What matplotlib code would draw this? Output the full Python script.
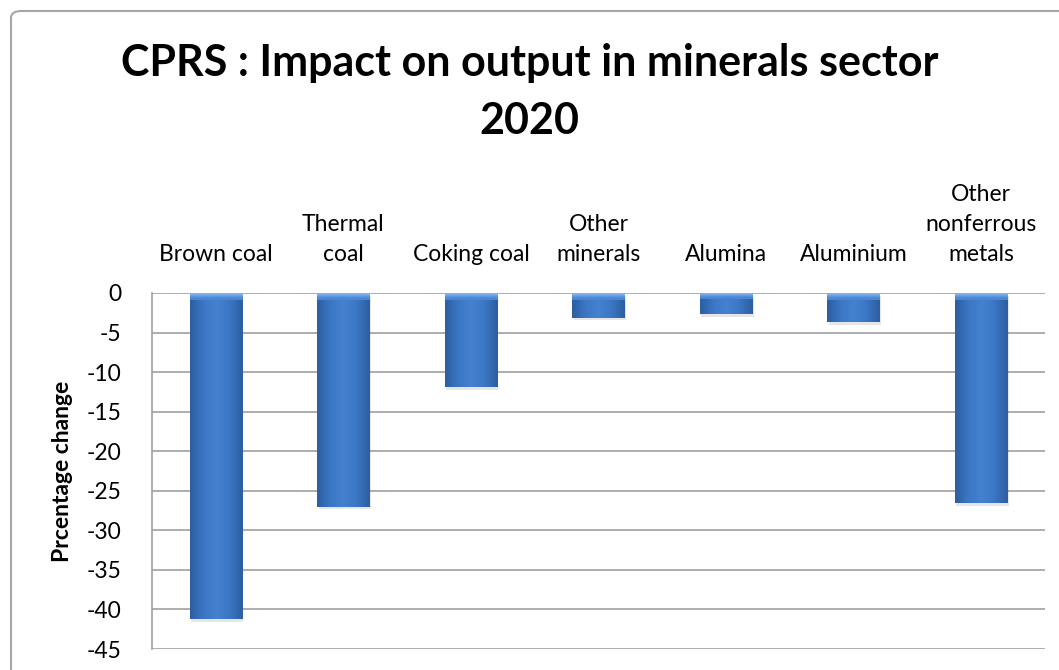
import numpy as np
import matplotlib
matplotlib.use("Agg")
import matplotlib.pyplot as plt
from matplotlib.patches import FancyBboxPatch
import matplotlib.patheffects as pe
from matplotlib.colors import LinearSegmentedColormap

# data
categories = ["Brown coal", "Thermal\ncoal", "Coking coal", "Other\nminerals",
              "Alumina", "Aluminium", "Other\nnonferrous\nmetals"]
pct_change = [-41.2, -27.0, -11.9, -3.1, -2.7, -3.7, -26.6]
yticks = list(range(0, -50, -5))

plt.rcParams['font.family'] = ['Lato', 'DejaVu Sans']

fig = plt.figure(figsize=(10.59, 6.70), dpi=100)
W, H = 1059, 670
ax = fig.add_axes([152 / W, 1 - 649 / H, (1045 - 152) / W, (649 - 293) / H])

# outer chart border (only top/left visible in the reference)
border = FancyBboxPatch((11 / W, -0.05), 1.2, 1 - 11 / H + 0.05,
                        boxstyle="round,pad=0,rounding_size=0.01",
                        transform=fig.transFigure, fill=False,
                        edgecolor="#a6a6a6", lw=1.5, zorder=0)
fig.patches.append(border)

x = np.arange(len(categories))
bars = ax.bar(x, pct_change, width=0.41, color="#3a74c2", zorder=3,
              path_effects=[pe.SimplePatchShadow(offset=(1, -2), alpha=0.12,
                                                 shadow_rgbFace="#333333"),
                            pe.Normal()])

# horizontal gradient inside each bar, like the Excel preset
grad = LinearSegmentedColormap.from_list(
    "bar", ["#2d5e9f", "#3b77c5", "#4481cf", "#3b77c5", "#2d5e9f"])
g = np.linspace(0, 1, 64).reshape(1, -1)
for b in bars:
    x0, w = b.get_x(), b.get_width()
    y1 = b.get_height()
    im = ax.imshow(g, cmap=grad, aspect="auto", extent=(x0, x0 + w, y1, 0),
                   zorder=4, interpolation="bicubic")
    im.set_clip_path(b)
    # lighter bevel strip at the top
    bev = ax.imshow(np.array([[0.0], [1.0]]), cmap=LinearSegmentedColormap.from_list(
        "bev", ["#7fb4ee", "#4a86d4"]), aspect="auto",
        extent=(x0, x0 + w, -min(0.9, abs(y1) * 0.3), 0), zorder=5,
        interpolation="bilinear")
    bev.set_clip_path(b)

ax.set_xlim(-0.5, len(categories) - 0.5)
ax.set_ylim(-45, 0)
ax.set_yticks(yticks)
ax.set_yticklabels([str(v) for v in yticks], fontsize=16.5)
ax.yaxis.grid(True, color="#a0a0a0", lw=1.2, zorder=1)
ax.set_axisbelow(True)

ax.xaxis.tick_top()
ax.set_xticks(x)
ax.set_xticklabels(categories, fontsize=16.5, linespacing=1.55)
ax.tick_params(axis="x", length=0, pad=20)
ax.tick_params(axis="y", length=0, pad=22)

for s in ["top", "right", "bottom"]:
    ax.spines[s].set_visible(False)
ax.spines["left"].set_color("#a0a0a0")
ax.spines["left"].set_linewidth(1.2)

ax.set_ylabel("Prcentage change", fontsize=16.5, fontweight="bold", labelpad=10)

fig.text(0.5, 1 - 63 / H, "CPRS : Impact on output in minerals sector",
         ha="center", va="center", fontsize=31, fontweight="bold")
fig.text(0.5, 1 - 121 / H, "2020", ha="center", va="center",
         fontsize=31, fontweight="bold")

fig.savefig("out.png", dpi=100, facecolor="white")
